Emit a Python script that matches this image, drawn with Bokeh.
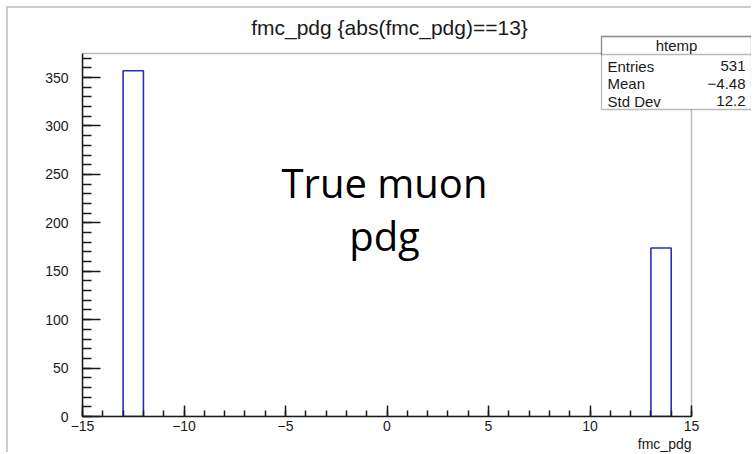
from bokeh.plotting import figure
from bokeh.models import Range1d, FixedTicker, Label, BoxAnnotation, CustomJSTickFormatter, Title
from bokeh.embed import file_html
from bokeh.resources import INLINE

# ---- data ----
bin_left = [-13, 13]
bin_right = [-12, 14]
counts = [357, 174]
x_major = [-15, -10, -5, 0, 5, 10, 15]
x_minor = list(range(-15, 16))
y_major = [0, 50, 100, 150, 200, 250, 300, 350]
y_minor = list(range(0, 371, 10))
x_lo, x_hi = -15, 15
y_lo, y_hi = 0, 374.85
title_text = "fmc_pdg {abs(fmc_pdg)==13}"
x_title = "fmc_pdg"
stats_name = "htemp"
stats_labels = ["Entries", "Mean", "Std Dev"]
stats_values = ["531", "\u22124.48", "12.2"]
note_lines = ["True muon", "pdg"]

# ---- layout (page pixel coordinates) ----
PAGE_W, PAGE_H = 753, 454
OX, OY = 8, 8                      # canvas origin on the page (after slide border)
FL, FR, FT, FB = 82, 691, 53, 416  # ROOT frame on the page
W, H = PAGE_W - OX, PAGE_H - OY
FONT = "Liberation Sans"
INK = "#1a1a1a"

# Bokeh frame spans from the ROOT frame's left/bottom to the canvas top/right
px_per_x = (FR - FL) / (x_hi - x_lo)
px_per_y = (FB - FT) / (y_hi - y_lo)
x_end = x_hi + (PAGE_W - FR) / px_per_x
y_end = y_hi + (FT - OY) / px_per_y


def sx(px):
    return px - FL


def sy(py):
    return FB - py


p = figure(width=W, height=H, output_backend="svg", toolbar_location=None,
           x_range=Range1d(x_lo, x_end), y_range=Range1d(y_lo, y_end),
           min_border_left=FL - OX, min_border_right=0,
           min_border_top=0, min_border_bottom=PAGE_H - FB,
           margin=(OY - 2, 0, 0, OX - 2),
           styles={"border-left": "2px solid #cccccc", "border-top": "2px solid #cccccc"})
p.xgrid.visible = False
p.ygrid.visible = False
p.background_fill_color = "white"
p.border_fill_color = "white"
p.outline_line_color = None

# ROOT frame box
p.add_layout(BoxAnnotation(left=x_lo, right=x_hi, bottom=y_lo, top=y_hi,
                           fill_alpha=0, line_color=INK, line_width=1.5))

p.quad(left=bin_left, right=bin_right, bottom=0, top=counts,
       fill_color=None, line_color="#2b2bbf", line_width=1.6)

fmt = CustomJSTickFormatter(code="return tick < 0 ? '\\u2212' + Math.abs(tick) : tick.toString();")

xa = p.xaxis[0]
xa.bounds = (x_lo, x_hi)
xa.ticker = FixedTicker(ticks=x_major, minor_ticks=x_minor)
xa.formatter = fmt
xa.major_tick_in = 11
xa.major_tick_out = 0
xa.minor_tick_in = 6
xa.minor_tick_out = 0
xa.major_label_standoff = 4
xa.major_label_text_font = FONT
xa.major_label_text_font_size = "14px"
xa.major_label_text_color = INK
xa.axis_line_color = INK
xa.axis_line_width = 1.5
xa.major_tick_line_color = INK
xa.minor_tick_line_color = INK
xa.major_tick_line_width = 1.5
xa.minor_tick_line_width = 1.5

ya = p.yaxis[0]
ya.bounds = (y_lo, y_hi)
ya.ticker = FixedTicker(ticks=y_major, minor_ticks=y_minor)
ya.major_tick_in = 18
ya.major_tick_out = 0
ya.minor_tick_in = 9
ya.minor_tick_out = 0
ya.major_label_standoff = 14
ya.major_label_text_font = FONT
ya.major_label_text_font_size = "14px"
ya.major_label_text_color = INK
ya.axis_line_color = INK
ya.axis_line_width = 1.5
ya.major_tick_line_color = INK
ya.minor_tick_line_color = INK
ya.major_tick_line_width = 1.5
ya.minor_tick_line_width = 1.5

# x axis title, right aligned under the frame end
p.add_layout(Title(text=x_title, align="right", offset=(PAGE_W - FR),
                   text_font=FONT, text_font_size="14px", text_font_style="normal",
                   text_color=INK, standoff=0), "below")

# title
p.add_layout(Label(x=sx(389), y=sy(27), x_units="screen", y_units="screen",
                   text=title_text, text_align="center", text_baseline="alphabetic",
                   text_font=FONT, text_font_size="21px", text_color=INK))

# stats box
p.add_layout(BoxAnnotation(left=sx(601), right=sx(751), top=sy(36), bottom=sy(109),
                           left_units="screen", right_units="screen",
                           top_units="screen", bottom_units="screen",
                           fill_color="white", fill_alpha=1,
                           line_color=INK, line_width=1.3))
p.add_layout(BoxAnnotation(left=sx(601), right=sx(751), top=sy(36), bottom=sy(54),
                           left_units="screen", right_units="screen",
                           top_units="screen", bottom_units="screen",
                           fill_alpha=0, line_color=INK, line_width=1.3))
p.add_layout(Label(x=sx(676), y=sy(45), x_units="screen", y_units="screen",
                   text=stats_name, text_align="center", text_baseline="middle",
                   text_font=FONT, text_font_size="15px", text_color=INK))
for i, (lab, val) in enumerate(zip(stats_labels, stats_values)):
    yy = sy(65.5 + i * 17.5)
    p.add_layout(Label(x=sx(607), y=yy, x_units="screen", y_units="screen",
                       text=lab, text_align="left", text_baseline="middle",
                       text_font=FONT, text_font_size="15px", text_color=INK))
    p.add_layout(Label(x=sx(745), y=yy, x_units="screen", y_units="screen",
                       text=val, text_align="right", text_baseline="middle",
                       text_font=FONT, text_font_size="15px", text_color=INK))

# overlay note
for i, line in enumerate(note_lines):
    p.add_layout(Label(x=sx(384), y=sy(182 + i * 53), x_units="screen", y_units="screen",
                       text=line, text_align="center", text_baseline="alphabetic",
                       text_font="Open Sans", text_font_size="40px", text_color="black"))

open("out.html", "w").write(file_html(p, INLINE))
